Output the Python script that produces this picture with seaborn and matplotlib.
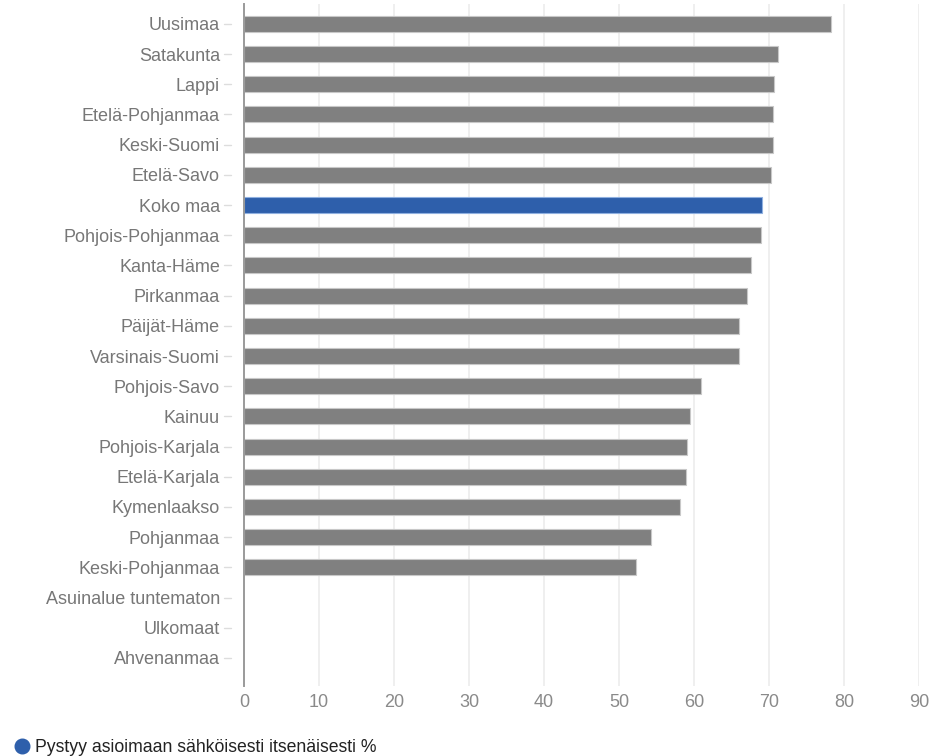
import numpy as np
import pandas as pd
import matplotlib
matplotlib.use("Agg")
import matplotlib.pyplot as plt
from matplotlib.lines import Line2D
from matplotlib.transforms import blended_transform_factory
import seaborn as sns

# Regions and share (%) able to handle errands electronically on their own
regions = [
    "Uusimaa", "Satakunta", "Lappi", "Etelä-Pohjanmaa", "Keski-Suomi",
    "Etelä-Savo", "Koko maa", "Pohjois-Pohjanmaa", "Kanta-Häme", "Pirkanmaa",
    "Päijät-Häme", "Varsinais-Suomi", "Pohjois-Savo", "Kainuu",
    "Pohjois-Karjala", "Etelä-Karjala", "Kymenlaakso", "Pohjanmaa",
    "Keski-Pohjanmaa", "Asuinalue tuntematon", "Ulkomaat", "Ahvenanmaa",
]
values = [
    78.2, 71.2, 70.7, 70.5, 70.5,
    70.2, 69.0, 68.9, 67.6, 67.0,
    66.0, 66.0, 60.9, 59.4,
    59.1, 58.9, 58.1, 54.2,
    52.3, np.nan, np.nan, np.nan,
]
x_ticks = [0, 10, 20, 30, 40, 50, 60, 70, 80, 90]
legend_label = "Pystyy asioimaan sähköisesti itsenäisesti %"
highlight = "Koko maa"

GREY = "#808080"
BLUE = "#2e5fab"
TEXT_GREY = "#777777"
W, H = 930, 756

df = pd.DataFrame({"alue": regions, "osuus": values})
palette = {r: (BLUE if r == highlight else GREY) for r in regions}

sns.set_theme(style="white")
plt.rcParams["font.family"] = ["Liberation Sans", "DejaVu Sans"]

fig = plt.figure(figsize=(W / 100, H / 100), dpi=100)
ax = fig.add_axes([244 / W, 1 - 686 / H, (919 - 244) / W, (686 - 4) / H])

sns.barplot(
    data=df, x="osuus", y="alue", hue="alue", order=regions, hue_order=regions,
    palette=palette, legend=False, orient="h", width=0.53,
    linewidth=0.8, edgecolor="#c8c8c8", saturation=1, ax=ax,
)
# lighter outline on the highlighted bar
for patch, r in zip(ax.patches, regions):
    if r == highlight:
        patch.set_edgecolor("#8fb0e0")

ax.set_xlim(0, 90)
ax.set_ylim(21.93, -0.66)
ax.set_xticks(x_ticks)
ax.set_xticklabels([str(t) for t in x_ticks])
ax.set_xlabel("")
ax.set_ylabel("")

ax.grid(axis="x", color="#ececec", linewidth=1.2)
ax.grid(axis="y", visible=False)
ax.set_axisbelow(True)

for side in ["top", "right", "bottom"]:
    ax.spines[side].set_visible(False)
ax.spines["left"].set_color("#9a9a9a")
ax.spines["left"].set_linewidth(1.4)

ax.tick_params(axis="y", length=0, pad=17.3, labelsize=13,
               labelcolor=TEXT_GREY)
ax.tick_params(axis="x", length=0, pad=6, labelsize=13, labelcolor="#8a8a8a")

# short detached tick marks between the labels and the axis line
trans = blended_transform_factory(ax.transAxes, ax.transData)
x0 = (224 - 244) / (919 - 244)
x1 = (231 - 244) / (919 - 244)
for yy in ax.get_yticks():
    ax.plot([x0, x1], [yy, yy], transform=trans, color="#dddddd",
            linewidth=1.0, clip_on=False)

# legend: coloured dot with the series name
fig.add_artist(Line2D([22 / W], [1 - 745.5 / H], transform=fig.transFigure,
                      marker="o", markersize=10.5, linestyle="none",
                      markerfacecolor=BLUE, markeredgecolor=BLUE))
fig.text(35 / W, 1 - 751.5 / H, legend_label, fontsize=12.7,
         color="#222222", va="baseline", ha="left")

fig.savefig("out.png", dpi=100)
